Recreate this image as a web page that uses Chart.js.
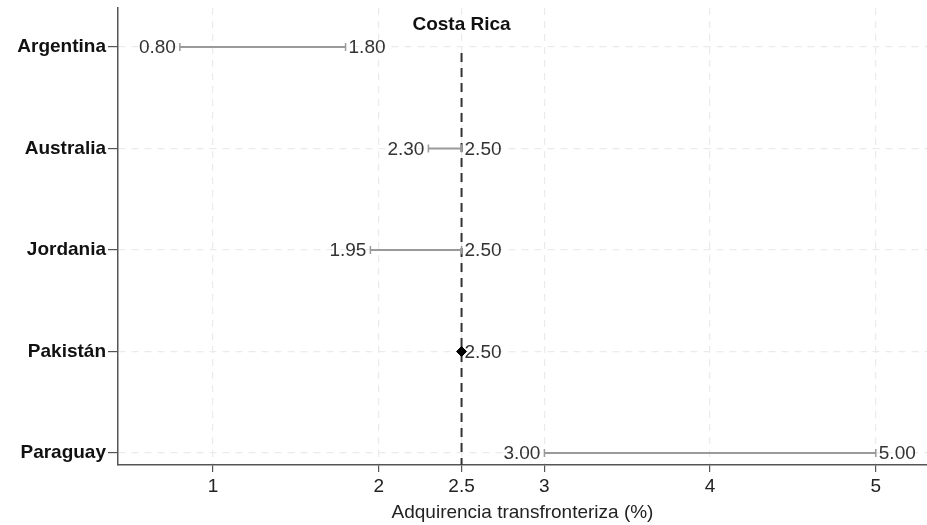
<!DOCTYPE html>
<html>
<head>
<meta charset="utf-8">
<script src="https://cdn.jsdelivr.net/npm/chart.js@4"></script>
<style>
  html, body { margin: 0; padding: 0; background: #fff; }
  #wrap { width: 927px; height: 525px; }
</style>
</head>
<body>
<div id="wrap"><canvas id="rangeChart"></canvas></div>
<script>
const countries = ['Argentina', 'Australia', 'Jordania', 'Pakistán', 'Paraguay'];
const lowValues = [0.80, 2.30, 1.95, 2.50, 3.00];
const highValues = [1.80, 2.50, 2.50, 2.50, 5.00];
const referenceValue = 2.5;
const referenceLabel = 'Costa Rica';
const xTickValues = [1, 2, 2.5, 3, 4, 5];
const xTitle = 'Adquirencia transfronteriza (%)';

const FONT = "'Liberation Sans', Arial, sans-serif";

const datasets = countries.map((name, i) => {
  const single = lowValues[i] === highValues[i];
  return {
    label: name,
    data: single
      ? [{ x: lowValues[i], y: i + 1 }]
      : [{ x: lowValues[i], y: i + 1 }, { x: highValues[i], y: i + 1 }],
    borderColor: '#9a9a9a',
    borderWidth: 2,
    pointStyle: single ? 'rectRot' : 'line',
    rotation: single ? 0 : 90,
    pointRadius: single ? 5 : 4,
    pointBorderWidth: single ? 1 : 1.5,
    pointBackgroundColor: single ? '#000' : '#9a9a9a',
    pointBorderColor: single ? '#000' : '#9a9a9a',
    showLine: !single
  };
});

const rangeLabels = {
  id: 'rangeLabels',
  beforeDatasetsDraw(chart) {
    const { ctx, chartArea, scales } = chart;
    const x = scales.x.getPixelForValue(referenceValue);
    ctx.save();
    ctx.strokeStyle = '#333';
    ctx.lineWidth = 2;
    ctx.setLineDash([9, 6]);
    ctx.beginPath();
    ctx.moveTo(x, scales.y.getPixelForValue(1) + 6);
    ctx.lineTo(x, chartArea.bottom);
    ctx.stroke();
    ctx.setLineDash([]);
    ctx.fillStyle = '#111';
    ctx.font = 'bold 19px ' + FONT;
    ctx.textAlign = 'center';
    ctx.textBaseline = 'middle';
    ctx.fillText(referenceLabel, x, 25);
    ctx.restore();
  },
  afterDatasetsDraw(chart) {
    const { ctx, scales } = chart;
    ctx.save();
    ctx.fillStyle = '#333';
    ctx.font = '19px ' + FONT;
    ctx.textBaseline = 'middle';
    countries.forEach((name, i) => {
      const y = scales.y.getPixelForValue(i + 1);
      const xl = scales.x.getPixelForValue(lowValues[i]);
      const xh = scales.x.getPixelForValue(highValues[i]);
      if (lowValues[i] !== highValues[i]) {
        ctx.textAlign = 'right';
        ctx.fillText(lowValues[i].toFixed(2), xl - 4, y + 1);
      }
      ctx.textAlign = 'left';
      ctx.fillText(highValues[i].toFixed(2), xh + 3, y + 1);
    });
    ctx.restore();
  }
};

new Chart(document.getElementById('rangeChart'), {
  type: 'line',
  data: { datasets },
  options: {
    responsive: true,
    maintainAspectRatio: false,
    animation: false,
    layout: { autoPadding: false, padding: { top: 8, right: 0, left: 0, bottom: 0 } },
    plugins: {
      legend: { display: false },
      tooltip: { enabled: false }
    },
    scales: {
      x: {
        type: 'linear',
        min: 0.4267,
        max: 5.309,
        afterBuildTicks: scale => { scale.ticks = xTickValues.map(v => ({ value: v })); },
        afterFit: scale => {
          scale.height = 60;
          scale.paddingLeft = 0;
          scale.paddingRight = 0;
        },
        ticks: {
          color: '#222',
          font: { family: FONT, size: 19 },
          padding: 3,
          callback: v => String(v)
        },
        grid: {
          color: '#ebebeb',
          tickColor: '#555',
          tickLength: 7,
          tickBorderDash: [],
          lineWidth: 1.2
        },
        border: { color: '#555', width: 1.5, dash: [7, 6] },
        title: {
          display: true,
          text: xTitle,
          color: '#222',
          font: { family: FONT, size: 19 },
          padding: { top: 0, bottom: 1 }
        }
      },
      y: {
        type: 'linear',
        reverse: true,
        min: 0.616,
        max: 5.118,
        afterBuildTicks: scale => { scale.ticks = countries.map((c, i) => ({ value: i + 1 })); },
        afterFit: scale => {
          scale.width = 118;
          scale.paddingTop = 0;
          scale.paddingBottom = 0;
        },
        ticks: {
          color: '#111',
          font: { family: FONT, size: 19, weight: 'bold' },
          padding: 2,
          callback: v => countries[v - 1]
        },
        grid: {
          color: '#ebebeb',
          tickColor: '#555',
          tickLength: 10,
          tickBorderDash: [],
          lineWidth: 1.2
        },
        border: { color: '#555', width: 1.5, dash: [7, 6] }
      }
    }
  },
  plugins: [rangeLabels]
});
</script>
</body>
</html>
